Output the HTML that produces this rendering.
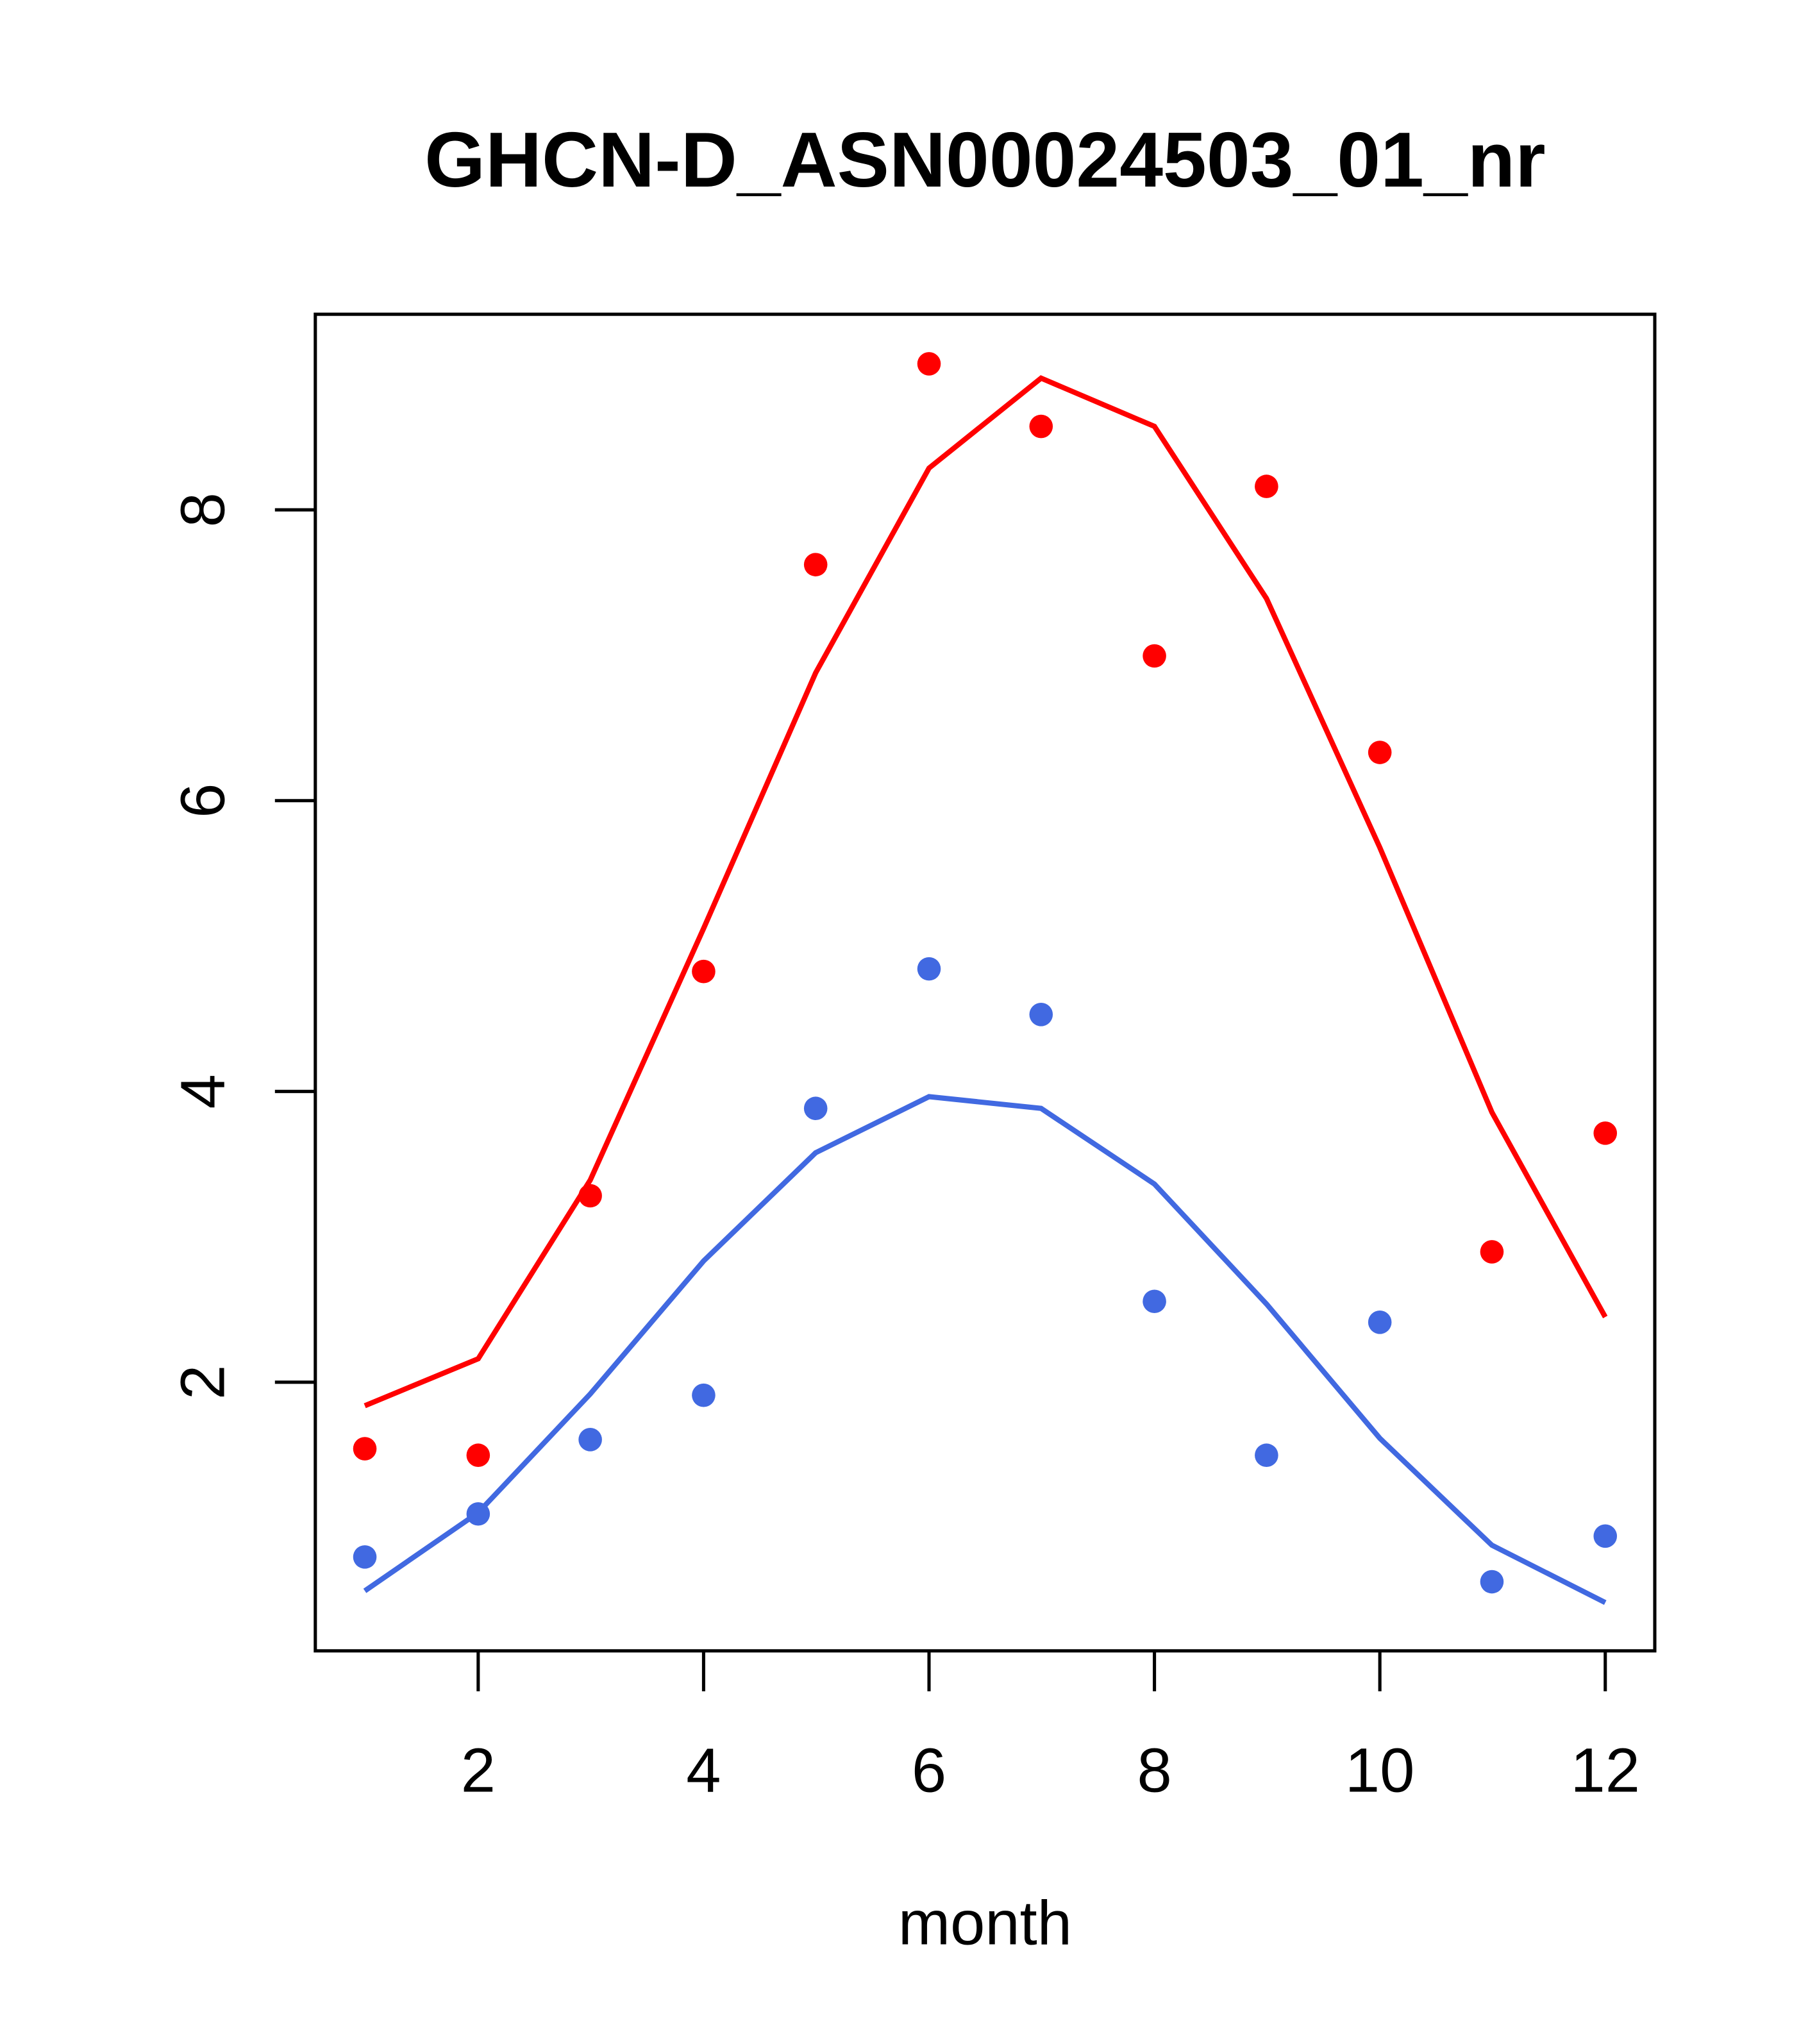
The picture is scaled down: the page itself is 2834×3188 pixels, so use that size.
<!DOCTYPE html>
<html><head><style>html,body{margin:0;padding:0;background:#fff}svg{display:block}</style></head>
<body>
<svg width="2834" height="3188" viewBox="0 0 1394.5 1567.5" preserveAspectRatio="none" xmlns="http://www.w3.org/2000/svg" font-family="Liberation Sans, sans-serif">
<rect width="1400" height="1575" fill="#fff"/>
<text x="756" y="143" font-size="60" font-weight="bold" text-anchor="middle">GHCN-D_ASN00024503_01_nr</text>
<rect x="242" y="241" width="1028" height="1025" fill="none" stroke="#000" stroke-width="2.5"/>
<g stroke="#000" stroke-width="2.5">
<line x1="367" y1="1266" x2="367" y2="1297"/><line x1="540" y1="1266" x2="540" y2="1297"/>
<line x1="713" y1="1266" x2="713" y2="1297"/><line x1="886" y1="1266" x2="886" y2="1297"/>
<line x1="1059" y1="1266" x2="1059" y2="1297"/><line x1="1232" y1="1266" x2="1232" y2="1297"/>
<line x1="211" y1="1060" x2="242" y2="1060"/><line x1="211" y1="837" x2="242" y2="837"/>
<line x1="211" y1="614" x2="242" y2="614"/><line x1="211" y1="391" x2="242" y2="391"/>
</g>
<g font-size="48" text-anchor="middle">
<text x="367" y="1374">2</text><text x="540" y="1374">4</text><text x="713" y="1374">6</text>
<text x="886" y="1374">8</text><text x="1059" y="1374">10</text><text x="1232" y="1374">12</text>
<text transform="translate(172,1060) rotate(-90)">2</text>
<text transform="translate(172,837) rotate(-90)">4</text>
<text transform="translate(172,614) rotate(-90)">6</text>
<text transform="translate(172,391) rotate(-90)">8</text>
<text x="756" y="1491">month</text>
</g>
<polyline fill="none" stroke="#ff0000" stroke-width="4" points="280,1078 367,1042 453,905 540,712 626,516 713,359 799,290 886,327 972,459 1059,650 1145,853 1232,1010"/>
<polyline fill="none" stroke="#4169e1" stroke-width="4" points="280,1220 367,1160 453,1069 540,967 626,884 713,841 799,850 886,908 972,1000 1059,1103 1145,1185 1232,1229"/>
<g fill="#ff0000">
<circle cx="280" cy="1111" r="9"/><circle cx="367" cy="1116" r="9"/><circle cx="453" cy="917" r="9"/>
<circle cx="540" cy="745" r="9"/><circle cx="626" cy="433" r="9"/><circle cx="713" cy="279" r="9"/>
<circle cx="799" cy="327" r="9"/><circle cx="886" cy="503" r="9"/><circle cx="972" cy="373" r="9"/>
<circle cx="1059" cy="577" r="9"/><circle cx="1145" cy="960" r="9"/><circle cx="1232" cy="869" r="9"/>
</g>
<g fill="#4169e1">
<circle cx="280" cy="1194" r="9"/><circle cx="367" cy="1161" r="9"/><circle cx="453" cy="1104" r="9"/>
<circle cx="540" cy="1070" r="9"/><circle cx="626" cy="850" r="9"/><circle cx="713" cy="743" r="9"/>
<circle cx="799" cy="778" r="9"/><circle cx="886" cy="998" r="9"/><circle cx="972" cy="1116" r="9"/>
<circle cx="1059" cy="1014" r="9"/><circle cx="1145" cy="1213" r="9"/><circle cx="1232" cy="1178" r="9"/>
</g>
</svg>
</body></html>
